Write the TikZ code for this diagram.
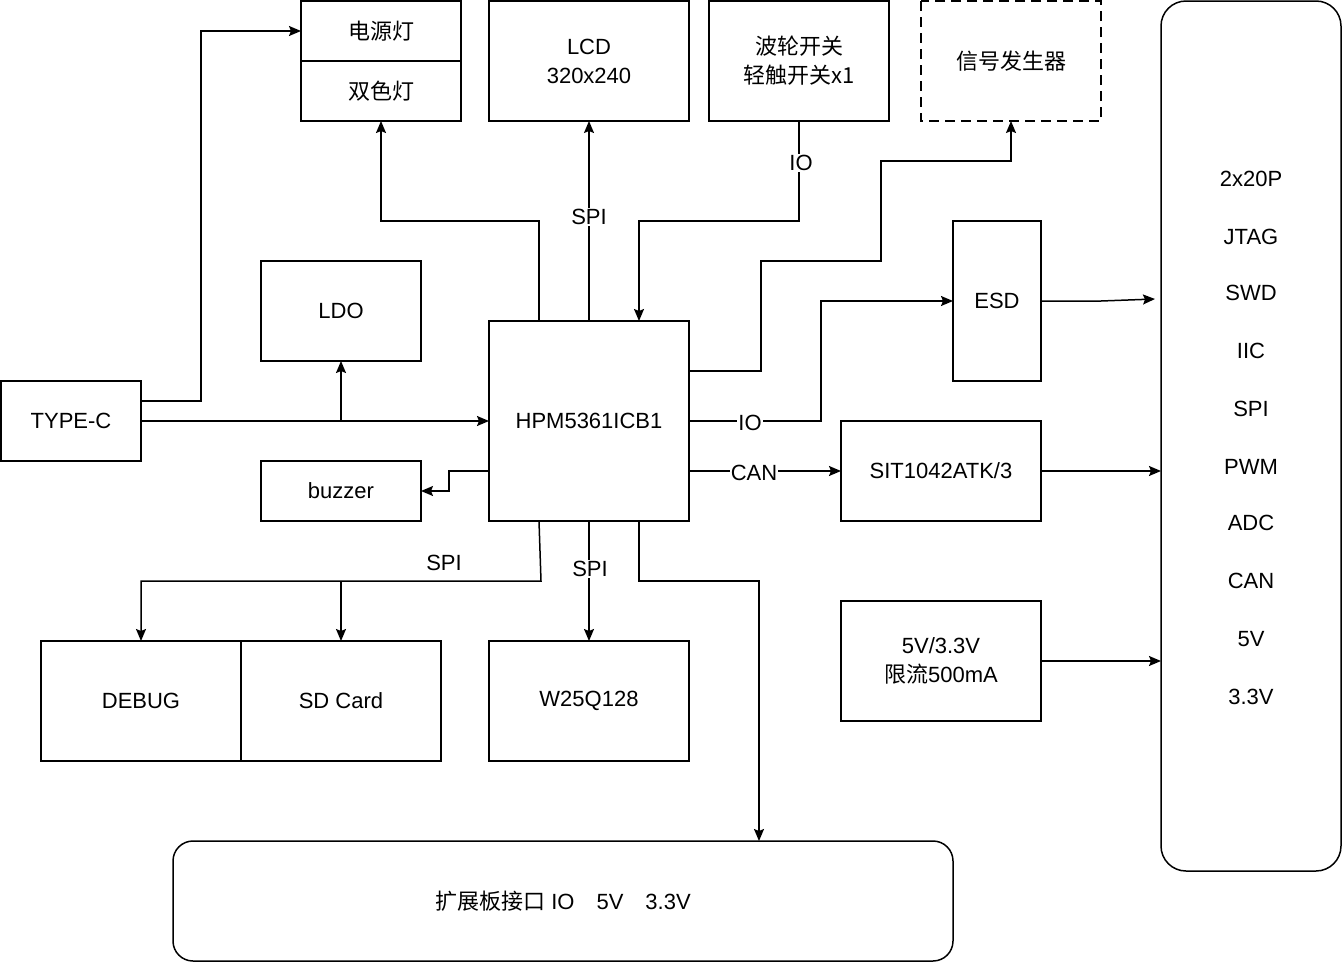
\documentclass[tikz,border=0pt]{standalone}
\usepackage{fontspec}
\setmainfont{Liberation Sans}
\newfontfamily\cjk{Noto Sans CJK SC}
\usetikzlibrary{arrows.meta}
\begin{document}
\begin{tikzpicture}[x=1pt,y=-1pt,
  every node/.style={font=\fontsize{22}{29}\selectfont},
  bx/.style={draw,line width=1.5pt,inner sep=0pt},
  ar/.style={line width=1.5pt,-{Stealth[length=12pt,width=10pt,inset=2pt]}},
  lab/.style={fill=white,inner sep=1pt}]
\useasboundingbox (0,0) rectangle (1344,964);
\draw[bx] (301,1) rectangle (461,61) node[midway] (pw) {\cjk 电源灯};
\draw[bx] (301,61) rectangle (461,121) node[midway] (bi) {\cjk 双色灯};
\draw[bx] (489,1) rectangle (689,121) node[midway,align=center] (lcd) {LCD\\320x240};
\draw[bx] (709,1) rectangle (889,121) node[midway,align=center] (sw) {\cjk 波轮开关\\\cjk 轻触开关x1};
\draw[bx,dashed,dash pattern=on 10pt off 6pt] (921,1) rectangle (1101,121) node[midway] (sig) {\cjk 信号发生器};
\draw[bx,rounded corners=25pt] (1161,1) rectangle (1341,871);
\foreach \t/\y in {2x20P/179,JTAG/237,SWD/293,IIC/351,SPI/409,PWM/467,ADC/523,CAN/581,5V/639,3.3V/697}
  \node (r\y) at (1251,\y) {\t};
\draw[bx] (261,261) rectangle (421,361) node[midway] (ldo) {LDO};
\draw[bx] (1,381) rectangle (141,461) node[midway] (tc) {TYPE-C};
\draw[bx] (489,321) rectangle (689,521) node[midway] (hpm) {HPM5361ICB1};
\draw[bx] (261,461) rectangle (421,521) node[midway] (bz) {buzzer};
\draw[bx] (953,221) rectangle (1041,381) node[midway] (esd) {ESD};
\draw[bx] (841,421) rectangle (1041,521) node[midway] (sit) {SIT1042ATK/3};
\draw[bx] (841,601) rectangle (1041,721) node[midway,align=center] (pwr) {5V/3.3V\\{\cjk 限流}500mA};
\draw[bx] (41,641) rectangle (241,761) node[midway] (dbg) {DEBUG};
\draw[bx] (241,641) rectangle (441,761) node[midway] (sd) {SD Card};
\draw[bx] (489,641) rectangle (689,761) node[midway] (w25) {W25Q128};
\draw[bx,rounded corners=20pt] (173,841) rectangle (953,961) node[midway] (ext) {{\cjk 扩展板接口} IO\quad 5V\quad 3.3V};

\draw[ar] (141,401) -- (201,401) -- (201,31) -- (301,31);
\draw[ar] (141,421) -- (489,421);
\draw[ar] (341,421) -- (341,361);
\draw[ar] (539,321) -- (539,221) -- (381,221) -- (381,121);
\draw[ar] (589,321) -- (589,121);
\node[lab] at (589,217) {SPI};
\draw[ar] (799,121) -- (799,221) -- (639,221) -- (639,321);
\node[lab] at (801,163) {IO};
\draw[ar] (689,371) -- (761,371) -- (761,261) -- (881,261) -- (881,161) -- (1011,161) -- (1011,121);
\draw[ar] (689,421) -- (821,421) -- (821,301) -- (953,301);
\node[lab] at (750,423) {IO};
\draw[ar] (1041,301) -- (1101,301) -- (1155,299);
\draw[ar] (689,471) -- (841,471);
\node[lab] at (754,473) {CAN};
\draw[ar] (1041,471) -- (1161,471);
\draw[ar] (1041,661) -- (1161,661);
\draw[ar] (489,471) -- (449,471) -- (449,491) -- (421,491);
\draw[ar] (539,521) -- (541,581) -- (141,581) -- (141,641);
\draw[ar] (341,581) -- (341,641);
\node at (444,563) {SPI};
\draw[ar] (589,521) -- (589,641);
\node[lab] at (590,569) {SPI};
\draw[ar] (639,521) -- (639,581) -- (759,581) -- (759,841);
\end{tikzpicture}
\end{document}
